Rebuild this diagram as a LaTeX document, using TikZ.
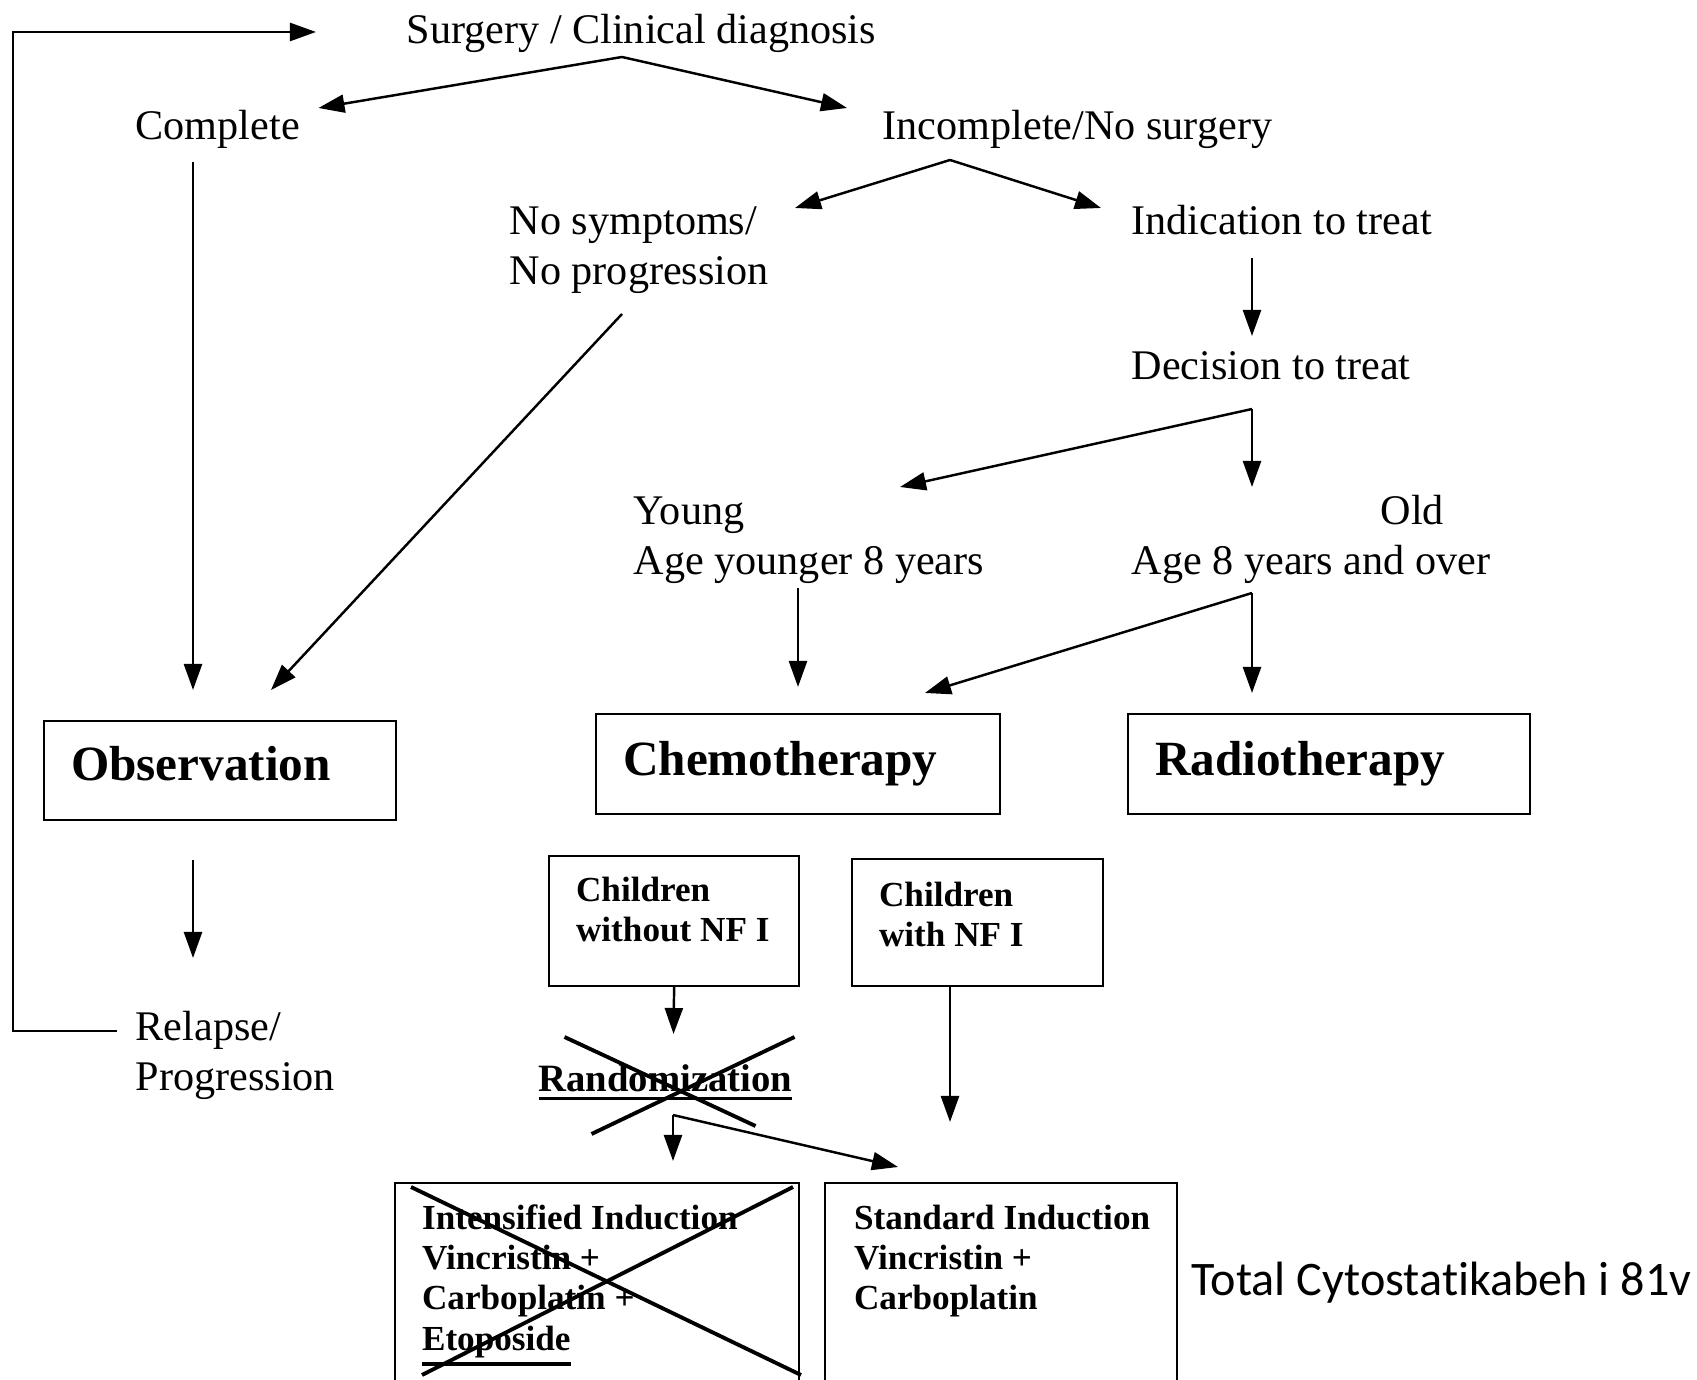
\documentclass[tikz,border=0pt]{standalone}
\usepackage{fontspec}
\setmainfont{Liberation Serif}
\newfontfamily\calibrifont[Ligatures=NoCommon]{Carlito}
\usetikzlibrary{arrows.meta}
\newcommand{\thickul}[1]{\setbox0\hbox{#1}\vtop{\copy0\kern1.2pt\hrule width\wd0 height1pt}}

\begin{document}
\begin{tikzpicture}[x=0.01cm, y=-0.01cm,
    txt/.style={inner sep=0pt, anchor=base west, align=flush left, font=\fontsize{12}{14.2}\selectfont},
    bigbox/.style={draw, line width=0.6pt, anchor=north west, inner xsep=0.27cm, inner ysep=0pt, align=flush left, text height=0.61cm, text depth=0.39cm, font=\bfseries\fontsize{14}{17}\selectfont},
    smallbox/.style={draw, line width=0.6pt, anchor=north west, inner xsep=0.27cm, inner ysep=0pt, align=flush left, font=\bfseries\fontsize{10}{11.5}\selectfont},
    arr/.style={-{Triangle[length=2.6mm,width=1.8mm]}, line width=0.7pt},
    strike/.style={line width=1.1pt}]

    \useasboundingbox (0,0) rectangle (1697,1380);
    \clip (0,0) rectangle (1697,1380);

    % Node definitions
    \node (surg) at (406, 44) [txt] {Surgery / Clinical diagnosis};
    \node (compl) at (135, 140) [txt] {Complete};
    \node (incompl) at (882, 140) [txt] {Incomplete/No surgery};
    \node (nosym) at (509, 235) [txt, text width=3cm] {No symptoms/\\No progression};
    \node (indic) at (1131, 235) [txt] {Indication to treat};
    \node (decis) at (1131, 380) [txt] {Decision to treat};
    \node (young) at (633, 525) [txt, text width=4cm] {Young\\Age younger 8 years};
    \node (old) at (1380, 525) [txt] {Old};
    \node (oldage) at (1131, 575) [txt] {Age 8 years and over};
    \node (relapse) at (135, 1041) [txt, text width=2.5cm] {Relapse/\\Progression};

    % Boxes
    \node (obs) at (43, 720) [bigbox, text height=0.59cm, text depth=0.40cm, text width=2.98cm] {Observation};
    \node (chemo) at (595, 713) [bigbox, text width=3.50cm] {Chemotherapy};
    \node (radio) at (1127, 713) [bigbox, text width=3.48cm] {Radiotherapy};
    \node (nonf) at (548, 855) [smallbox, text width=1.96cm, text height=0.45cm, text depth=0.85cm] {\mbox{Children}\\\mbox{without NF I}};
    \node (withnf) at (851, 858) [smallbox, text width=1.97cm, text height=0.47cm, text depth=0.80cm] {\mbox{Children}\\\mbox{with NF I}};
    \node (rand) at (538, 1092) [txt, font=\bfseries\fontsize{11}{13}\selectfont] {\thickul{Randomization}};
    \node (intens) at (394, 1182) [smallbox, text width=3.50cm, text height=0.46cm, text depth=2.2cm] {\mbox{Intensified Induction}\\Vincristin +\\Carboplatin +\\\thickul{Etoposide}};
    \node (std) at (824, 1182) [smallbox, inner xsep=0.29cm, text width=2.94cm, text height=0.46cm, text depth=2.2cm] {\mbox{Standard Induction}\\Vincristin +\\Carboplatin};
    \node (total) at (1191, 1295) [inner sep=0pt, anchor=base west, font=\calibrifont\fontsize{13.7}{16}\selectfont] {Total Cytostatikabeh i 81v};

    % Branch points
    \coordinate (sj) at (622, 57);
    \coordinate (ij) at (950, 160);
    \coordinate (dj) at (1252, 409);
    \coordinate (oj) at (1252, 593);
    \coordinate (rj) at (673, 1115);

    % Edge definitions
    \draw[arr] (sj) -- ([shift={(18,-32)}]compl.base east);
    \draw[arr] (sj) -- ([shift={(-35,-32)}]incompl.base west);
    \draw[arr] (ij) -- ([shift={(286,-27)}]nosym.base west);
    \draw[arr] (ij) -- ([shift={(-30,-27)}]indic.base west);
    \draw[arr] ([shift={(121,23)}]indic.base west) -- ([shift={(121,-44)}]decis.base west);
    \draw[arr] (dj) -- ([shift={(267,-38)}]young.base west);
    \draw[arr] (dj) -- ([shift={(121,-88)}]oldage.base west);
    \draw[arr] ([shift={(165,63)}]young.base west) -- ([shift={(203,-26)}]chemo.north west);
    \draw[arr] (oj) -- ([shift={(330,-20)}]chemo.north west);
    \draw[arr] (oj) -- ([shift={(125,-20)}]radio.north west);
    \draw[arr] ([shift={(58,22)}]compl.base west) -- ([shift={(150,-30)}]obs.north west);
    \draw[arr] ([shift={(113,79)}]nosym.base west) -- ([shift={(228,-30)}]obs.north west);
    \draw[arr] ([shift={(150,39)}]obs.south west) -- ([shift={(58,-83)}]relapse.base west);
    \draw[arr] ([shift={(-18,-10)}]relapse.base west) -- ++(-104,0) |- ([shift={(-90,-12)}]surg.base west);
    \draw[arr] (nonf.south) -- ([shift={(8,-58)}]rand.base);
    \draw[arr] (rj) -- ([shift={(279,-21)}]intens.north west);
    \draw[arr] (rj) -- ([shift={(74,-15)}]std.north west);
    \draw[arr] ([shift={(99,0)}]withnf.south west) -- ([shift={(126,-60)}]std.north west);

    % Crossed out
    \draw[strike] (rand.base) +(-101,-55) -- +(90,34);
    \draw[strike] (rand.base) +(129,-55) -- +(-74,42);
    \draw[strike] (intens.north west) +(17,5) -- +(407,193);
    \draw[strike] (intens.north west) +(399,5) -- +(28,193);
\end{tikzpicture}
\end{document}
